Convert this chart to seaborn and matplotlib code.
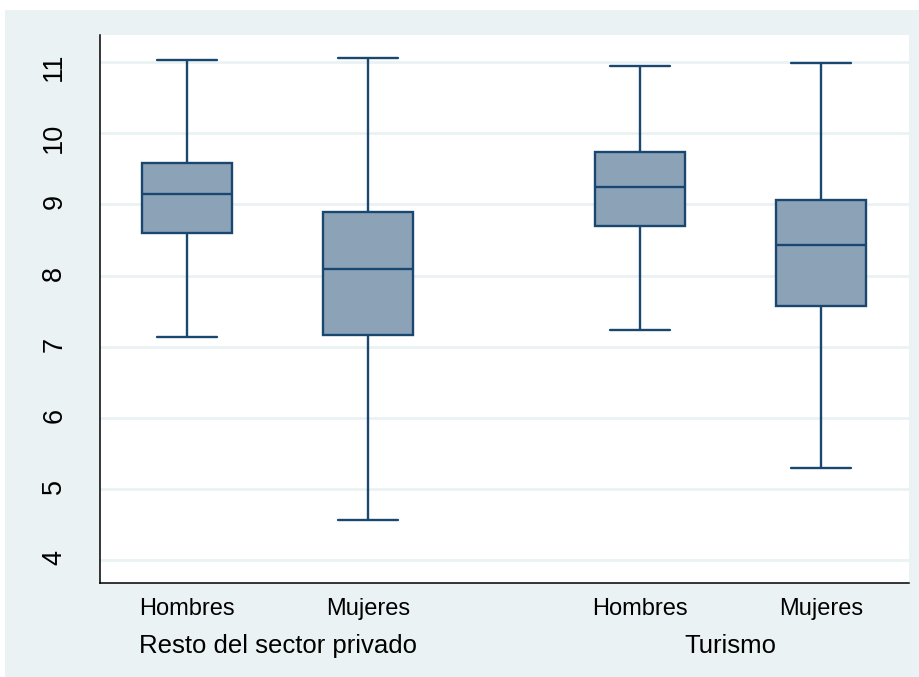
import matplotlib
matplotlib.use("Agg")
import matplotlib.pyplot as plt
from matplotlib.patches import Rectangle
from matplotlib.transforms import blended_transform_factory
import pandas as pd
import seaborn as sns

# Five-number summaries of the log values, one entry per box
sectors = ["Resto del sector privado", "Turismo"]
sexes = ["Hombres", "Mujeres"]
box_sector = ["Resto del sector privado", "Resto del sector privado", "Turismo", "Turismo"]
box_sex = ["Hombres", "Mujeres", "Hombres", "Mujeres"]
whisker_low = [7.14, 4.56, 7.23, 5.30]
quartile_1 = [8.60, 7.17, 8.70, 7.57]
median = [9.15, 8.09, 9.24, 8.43]
quartile_3 = [9.58, 8.89, 9.73, 9.06]
whisker_high = [11.03, 11.05, 10.94, 10.98]
y_ticks = [4, 5, 6, 7, 8, 9, 10, 11]

NAVY = "#1A476F"
FILL = "#8CA3B7"
BG = "#EAF2F3"

# Five points per group reproduce the quartiles exactly; whiskers run min..max
rows = []
for sec, sx, lo, a, m, b, hi in zip(box_sector, box_sex, whisker_low,
                                    quartile_1, median, quartile_3, whisker_high):
    for v in (lo, a, m, b, hi):
        rows.append({"sector": sec, "sexo": sx, "valor": v})
df = pd.DataFrame(rows)

sns.set_theme(style="white")
plt.rcParams["font.family"] = ["Liberation Sans", "DejaVu Sans"]

W, H = 919, 677
fig = plt.figure(figsize=(W / 100, H / 100), dpi=100, facecolor="white")
fig.patches.append(Rectangle((5 / W, 0), 1 - 5 / W, 1 - 10 / H,
                             transform=fig.transFigure, facecolor=BG,
                             edgecolor="none", zorder=-10))

ax = fig.add_axes([100 / W, 1 - 583 / H, 809 / W, 548 / H])
ax.set_facecolor("white")

sns.boxplot(data=df, x="sector", y="valor", hue="sexo",
            order=sectors, hue_order=sexes,
            palette={s: FILL for s in sexes}, saturation=1,
            width=0.8, gap=0.5, whis=(0, 100),
            linecolor=NAVY, linewidth=1.7, capwidths=0.133,
            legend=False, ax=ax)

ax.set_ylim(3.68, 11.38)
ax.set_xlim(-0.392, 1.394)
ax.set_yticks(y_ticks)
ax.set_yticklabels([str(t) for t in y_ticks])
ax.yaxis.grid(True, color=BG, linewidth=2)
ax.xaxis.grid(False)
ax.set_axisbelow(True)

# Sub-category ticks under each box
centers = sorted((p.get_path().vertices[:, 0].min() + p.get_path().vertices[:, 0].max()) / 2
                 for p in ax.patches)
ax.set_xticks(centers)
ax.set_xticklabels(box_sex)
ax.tick_params(axis="x", length=0, pad=10.5, labelsize=17, colors="black")
ax.tick_params(axis="y", length=6.5, width=1.2, color="#444444", direction="out",
               pad=17, labelsize=19.5, labelrotation=90, labelcolor="black")
ax.set_xlabel("")
ax.set_ylabel("")

for side in ("top", "right"):
    ax.spines[side].set_visible(False)
for side in ("left", "bottom"):
    ax.spines[side].set_color("black")
    ax.spines[side].set_linewidth(1.1)

# Group labels under each pair of boxes
trans = blended_transform_factory(ax.transData, ax.transAxes)
for i, sec in enumerate(sectors):
    ax.text(i, (583 - 653) / 548, sec, transform=trans, ha="center",
            va="baseline", fontsize=18.5, color="black")

fig.savefig("out.png", dpi=100, facecolor=fig.get_facecolor())
